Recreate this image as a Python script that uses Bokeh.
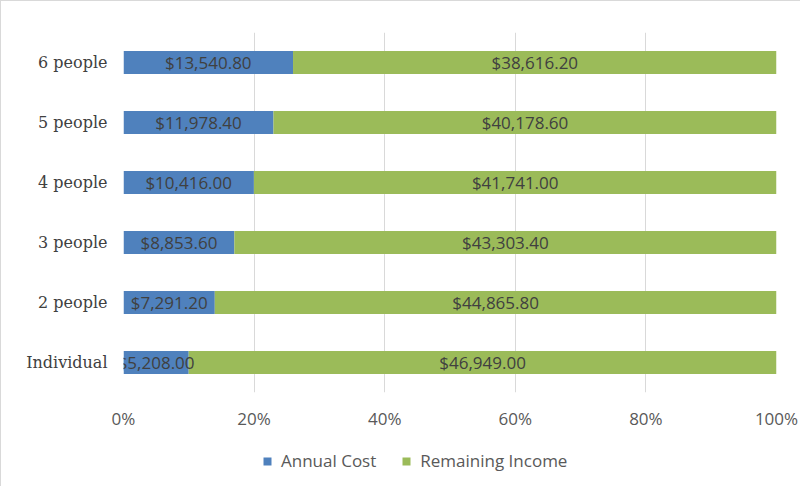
from bokeh.plotting import figure
from bokeh.layouts import column
from bokeh.models import ColumnDataSource, FactorRange, NumeralTickFormatter, Legend, LegendItem, FixedTicker
from bokeh.core.properties import value
from bokeh.embed import file_html
from bokeh.resources import INLINE

categories = ["Individual", "2 people", "3 people", "4 people", "5 people", "6 people"]
annual_cost = [5208.00, 7291.20, 8853.60, 10416.00, 11978.40, 13540.80]
remaining_income = [46949.00, 44865.80, 43303.40, 41741.00, 40178.60, 38616.20]
x_ticks = [0, 0.2, 0.4, 0.6, 0.8, 1.0]
series_names = ["Annual Cost", "Remaining Income"]

totals = [c + r for c, r in zip(annual_cost, remaining_income)]
cost_frac = [c / t for c, t in zip(annual_cost, totals)]
rem_frac = [r / t for r, t in zip(remaining_income, totals)]

src = ColumnDataSource(dict(
    cat=categories,
    zero=[0] * len(categories),
    one=[1] * len(categories),
    cost_frac=cost_frac,
    cost_mid=[f / 2 for f in cost_frac],
    rem_mid=[c + r / 2 for c, r in zip(cost_frac, rem_frac)],
    cost_lbl=["${:,.2f}".format(v) for v in annual_cost],
    rem_lbl=["${:,.2f}".format(v) for v in remaining_income],
))

BLUE = "#4F81BD"
GREEN = "#9BBB59"
BORDER = "1px solid #D9D9D9"

xr = (0, 1)
yr = FactorRange(factors=categories, range_padding=0)

p = figure(width=800, height=431, output_backend="svg", toolbar_location=None,
           x_range=xr, y_range=yr,
           min_border_left=122, min_border_right=25, min_border_top=31, min_border_bottom=40)
p.styles = {"border-top": BORDER, "border-left": BORDER}
p.outline_line_color = None

p.hbar(y="cat", left="zero", right="cost_frac", height=0.38, source=src,
       fill_color=BLUE, line_color=None)
p.hbar(y="cat", left="cost_frac", right="one", height=0.38, source=src,
       fill_color=GREEN, line_color=None)

lbl_font = value("Open Sans")
p.text(x="cost_mid", y="cat", text="cost_lbl", source=src, text_align="center",
       text_baseline="middle", text_font=lbl_font, text_font_size="17px", text_color="#404040")
p.text(x="rem_mid", y="cat", text="rem_lbl", source=src, text_align="center",
       text_baseline="middle", text_font=lbl_font, text_font_size="17px", text_color="#404040")

p.xaxis.ticker = FixedTicker(ticks=x_ticks)
p.xaxis.formatter = NumeralTickFormatter(format="0%")
p.xaxis.axis_line_color = None
p.xaxis.major_tick_line_color = None
p.xaxis.minor_tick_line_color = None
p.xaxis.major_label_text_font = "Open Sans"
p.xaxis.major_label_text_font_size = "17px"
p.xaxis.major_label_text_color = "#595959"
p.xaxis.major_label_standoff = 8

p.yaxis.axis_line_color = None
p.yaxis.major_tick_line_color = None
p.yaxis.minor_tick_line_color = None
p.yaxis.major_label_text_font = "DejaVu Serif"
p.yaxis.major_label_text_font_size = "16px"
p.yaxis.major_label_text_color = "#404040"
p.yaxis.major_label_standoff = 10

p.ygrid.grid_line_color = None
p.xgrid.grid_line_color = "#D9D9D9"
p.xgrid.grid_line_width = 1

# legend strip below the chart (frame is aligned with the main chart's frame by the column)
p2 = figure(width=800, height=55, output_backend="svg", toolbar_location=None,
            x_range=p.x_range, y_range=yr, x_axis_type=None, y_axis_type=None,
            min_border_left=0, min_border_right=0, min_border_top=0, min_border_bottom=0)
p2.styles = {"border-left": BORDER}
p2.outline_line_color = None
p2.grid.visible = False
lr1 = p2.hbar(y="cat", left="zero", right="cost_frac", height=0.38, source=src,
              fill_color=BLUE, line_color=None, visible=False)
lr2 = p2.hbar(y="cat", left="cost_frac", right="one", height=0.38, source=src,
              fill_color=GREEN, line_color=None, visible=False)

legend = Legend(items=[LegendItem(label=series_names[0], renderers=[lr1]),
                       LegendItem(label=series_names[1], renderers=[lr2])],
                orientation="horizontal", location=(139, 14), click_policy="none",
                glyph_width=10, glyph_height=10, label_height=16, label_standoff=9, spacing=25,
                padding=0, margin=0, border_line_color=None, background_fill_alpha=0,
                label_text_font="Open Sans", label_text_font_size="17px", label_text_color="#595959")
p2.add_layout(legend, "center")

layout = column(p, p2, spacing=0)
open("out.html", "w").write(file_html(layout, INLINE))
